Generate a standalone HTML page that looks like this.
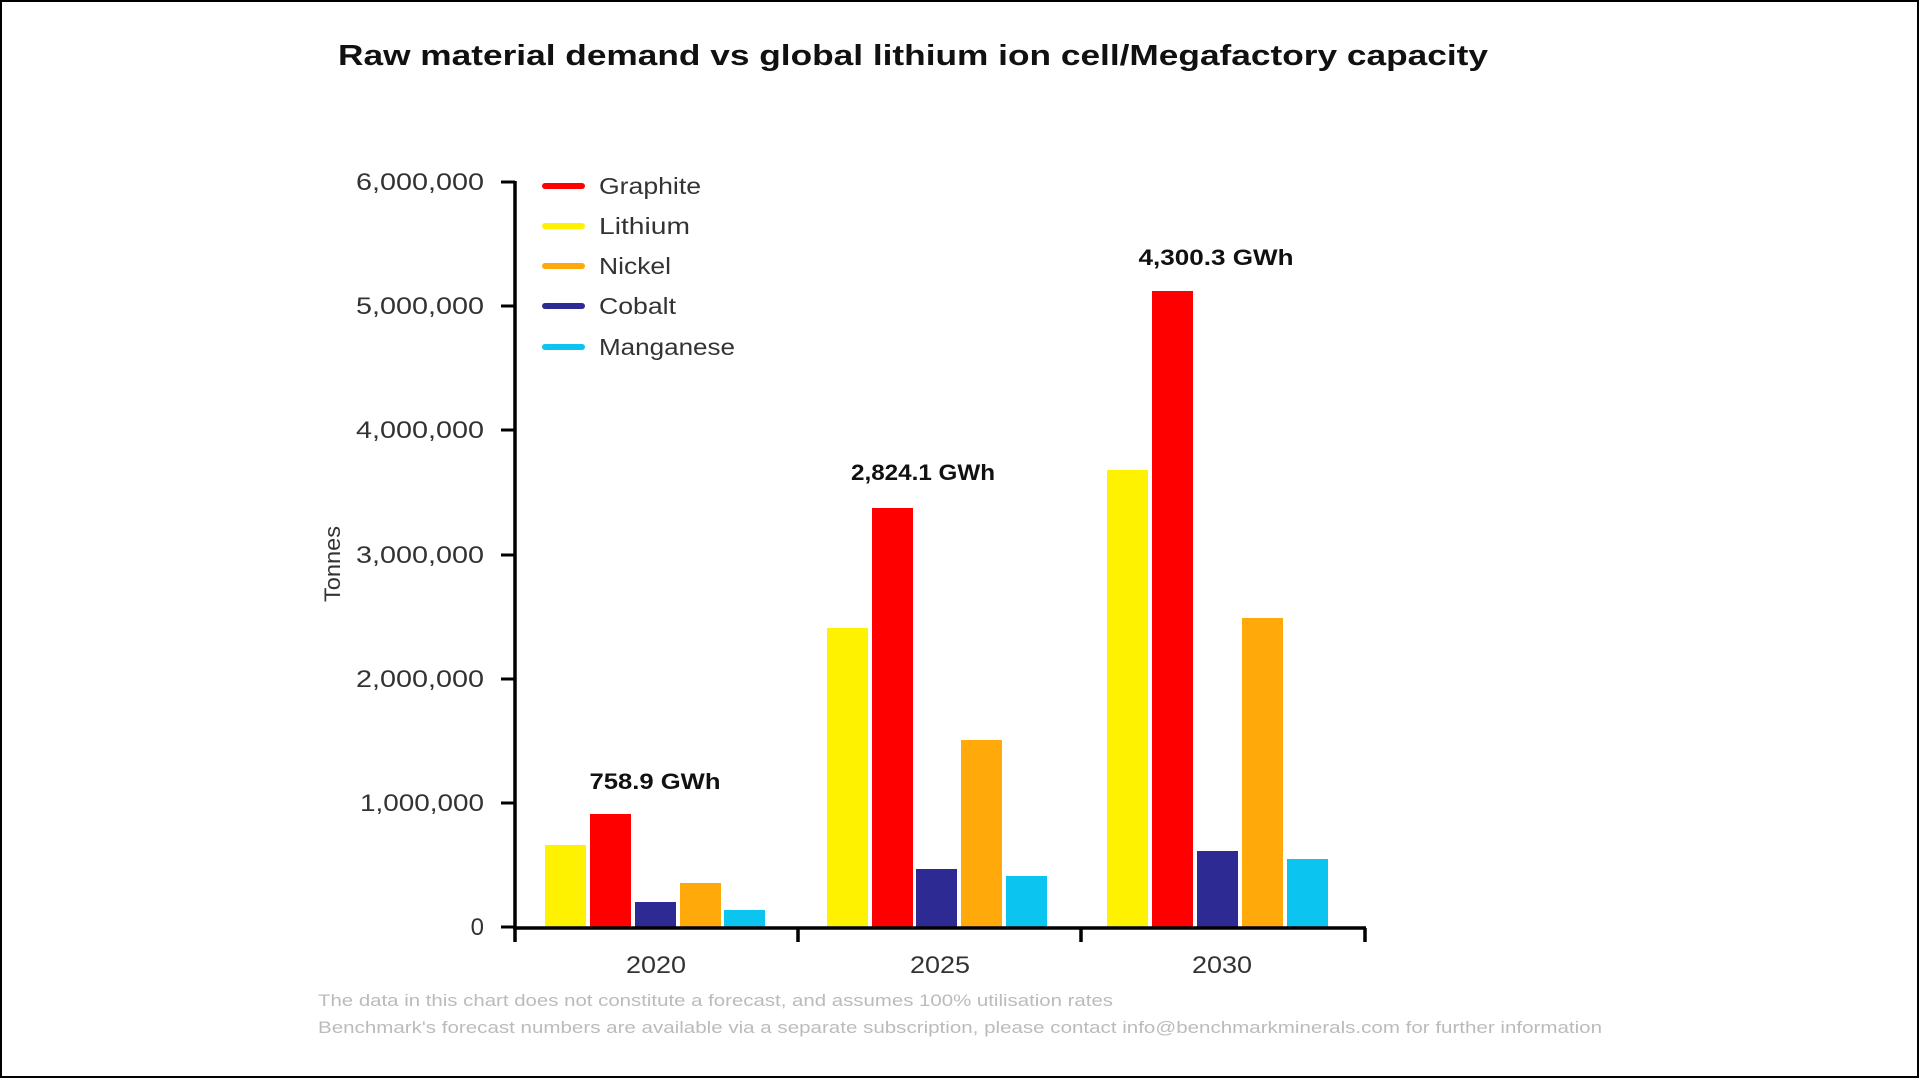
<!DOCTYPE html>
<html><head><meta charset="utf-8"><style>
html,body{margin:0;padding:0;background:#fff}
svg{display:block}
text{font-family:"Liberation Sans",sans-serif}
</style></head><body>
<svg width="1920" height="1080" viewBox="0 0 1920 1080" xmlns="http://www.w3.org/2000/svg">
<rect x="1" y="1" width="1917" height="1076" fill="#fff" stroke="#000" stroke-width="2"/>
<text x="913" y="65" text-anchor="middle" font-size="29" font-weight="bold" fill="#111" textLength="1150" lengthAdjust="spacingAndGlyphs">Raw material demand vs global lithium ion cell/Megafactory capacity</text>
<!-- y ticks -->
<g font-size="24" fill="#333" text-anchor="end">
<text x="484" y="190" textLength="128" lengthAdjust="spacingAndGlyphs">6,000,000</text>
<text x="484" y="314" textLength="128" lengthAdjust="spacingAndGlyphs">5,000,000</text>
<text x="484" y="438" textLength="128" lengthAdjust="spacingAndGlyphs">4,000,000</text>
<text x="484" y="563" textLength="128" lengthAdjust="spacingAndGlyphs">3,000,000</text>
<text x="484" y="687" textLength="128" lengthAdjust="spacingAndGlyphs">2,000,000</text>
<text x="484" y="811" textLength="124" lengthAdjust="spacingAndGlyphs">1,000,000</text>
<text x="484" y="935">0</text>
</g>
<g stroke="#000" stroke-width="3">
<line x1="501" y1="182" x2="515" y2="182"/><line x1="501" y1="306" x2="515" y2="306"/>
<line x1="501" y1="430" x2="515" y2="430"/><line x1="501" y1="555" x2="515" y2="555"/>
<line x1="501" y1="679" x2="515" y2="679"/><line x1="501" y1="803" x2="515" y2="803"/>
<line x1="501" y1="927" x2="515" y2="927"/>
</g>
<text transform="translate(340,564) rotate(-90)" text-anchor="middle" font-size="22" fill="#333" textLength="76" lengthAdjust="spacingAndGlyphs">Tonnes</text>
<!-- bars -->
<g>
<rect x="545" y="845" width="41" height="82" fill="#fff200"/>
<rect x="590" y="814" width="41" height="113" fill="#ff0000"/>
<rect x="635" y="902" width="41" height="25" fill="#2e2a94"/>
<rect x="680" y="883" width="41" height="44" fill="#ffa90a"/>
<rect x="724" y="910" width="41" height="17" fill="#0bc4ef"/>

<rect x="827" y="628" width="41" height="299" fill="#fff200"/>
<rect x="872" y="508" width="41" height="419" fill="#ff0000"/>
<rect x="916" y="869" width="41" height="58" fill="#2e2a94"/>
<rect x="961" y="740" width="41" height="187" fill="#ffa90a"/>
<rect x="1006" y="876" width="41" height="51" fill="#0bc4ef"/>

<rect x="1107" y="470" width="41" height="457" fill="#fff200"/>
<rect x="1152" y="291" width="41" height="636" fill="#ff0000"/>
<rect x="1197" y="851" width="41" height="76" fill="#2e2a94"/>
<rect x="1242" y="618" width="41" height="309" fill="#ffa90a"/>
<rect x="1287" y="859" width="41" height="68" fill="#0bc4ef"/>
</g>
<!-- axes -->
<g stroke="#000" stroke-width="3.5" fill="none">
<line x1="515" y1="181" x2="515" y2="929"/>
<line x1="513" y1="928" x2="1366" y2="928"/>
<line x1="515" y1="928" x2="515" y2="942"/>
<line x1="798" y1="928" x2="798" y2="942"/>
<line x1="1081" y1="928" x2="1081" y2="942"/>
<line x1="1365" y1="928" x2="1365" y2="942"/>
</g>
<g font-size="24" fill="#333" text-anchor="middle">
<text x="656" y="973" textLength="60" lengthAdjust="spacingAndGlyphs">2020</text><text x="940" y="973" textLength="60" lengthAdjust="spacingAndGlyphs">2025</text><text x="1222" y="973" textLength="60" lengthAdjust="spacingAndGlyphs">2030</text>
</g>
<g font-size="22" font-weight="bold" fill="#111" text-anchor="middle">
<text x="655" y="789" textLength="131" lengthAdjust="spacingAndGlyphs">758.9 GWh</text>
<text x="923" y="480" textLength="144" lengthAdjust="spacingAndGlyphs">2,824.1 GWh</text>
<text x="1216" y="265" textLength="155" lengthAdjust="spacingAndGlyphs">4,300.3 GWh</text>
</g>
<!-- legend -->
<g stroke-width="6" stroke-linecap="round">
<line x1="545" y1="186" x2="582" y2="186" stroke="#ff0000"/>
<line x1="545" y1="226" x2="582" y2="226" stroke="#fff200"/>
<line x1="545" y1="266" x2="582" y2="266" stroke="#ffa90a"/>
<line x1="545" y1="306" x2="582" y2="306" stroke="#2e2a94"/>
<line x1="545" y1="347" x2="582" y2="347" stroke="#0bc4ef"/>
</g>
<g font-size="23" fill="#333">
<text x="599" y="194" textLength="102" lengthAdjust="spacingAndGlyphs">Graphite</text>
<text x="599" y="234" textLength="91" lengthAdjust="spacingAndGlyphs">Lithium</text>
<text x="599" y="274" textLength="72" lengthAdjust="spacingAndGlyphs">Nickel</text>
<text x="599" y="314" textLength="77" lengthAdjust="spacingAndGlyphs">Cobalt</text>
<text x="599" y="355" textLength="136" lengthAdjust="spacingAndGlyphs">Manganese</text>
</g>
<g font-size="17" fill="#bbb">
<text x="318" y="1006" textLength="795" lengthAdjust="spacingAndGlyphs">The data in this chart does not constitute a forecast, and assumes 100% utilisation rates</text>
<text x="318" y="1033" textLength="1284" lengthAdjust="spacingAndGlyphs">Benchmark's forecast numbers are available via a separate subscription, please contact info@benchmarkminerals.com for further information</text>
</g>
</svg>
</body></html>
